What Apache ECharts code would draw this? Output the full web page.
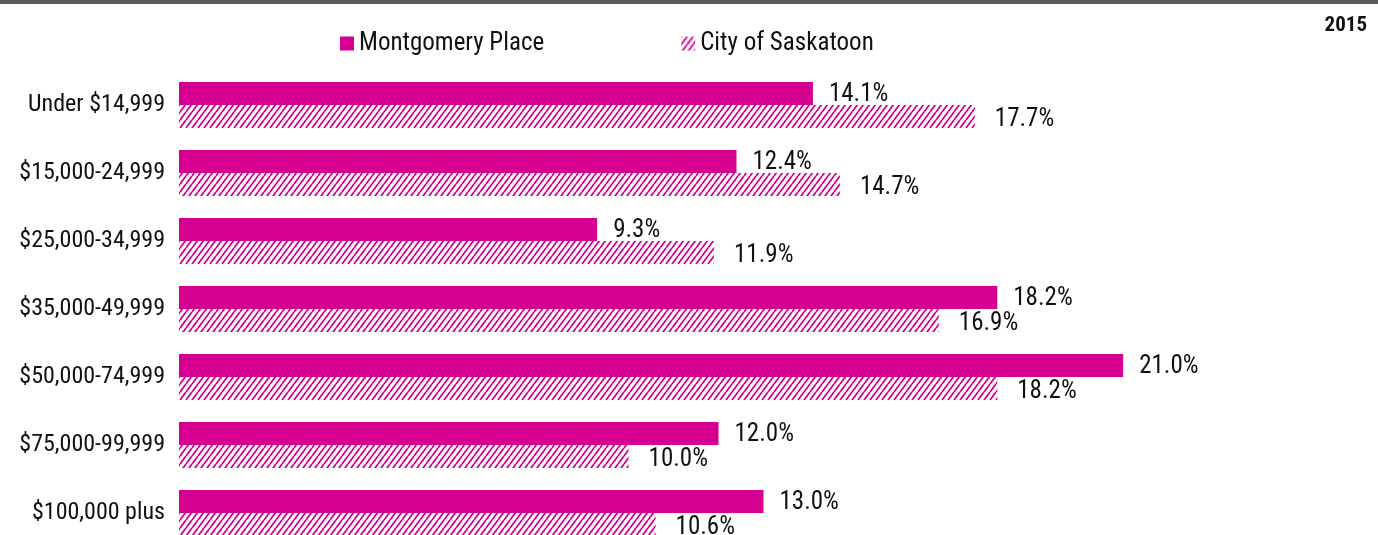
<!DOCTYPE html>
<html lang="en">
<head>
    <meta charset="UTF-8">
    <title>Household income 2015</title>
    <script src="https://cdn.jsdelivr.net/npm/echarts@6/dist/echarts.min.js"></script>
    <style>
        html, body { margin: 0; padding: 0; background: #fff; }
        #mChart { width: 1378px; height: 535px; }
    </style>
</head>
<body>
    <div id="mChart"></div>
    <script type="text/javascript">
        var categories = ['Under $14,999', '$15,000-24,999', '$25,000-34,999', '$35,000-49,999',
            '$50,000-74,999', '$75,000-99,999', '$100,000 plus']
        var montgomery = [14.1, 12.4, 9.3, 18.2, 21.0, 12.0, 13.0]
        var saskatoon = [17.7, 14.7, 11.9, 16.9, 18.2, 10.0, 10.6]

        var pink = '#D5008F'
        var font = "'Roboto Condensed', 'Arial Narrow', sans-serif"

        // hatch pattern for city series (diagonal stripes)
        var cv = document.createElement('canvas')
        cv.width = 6
        cv.height = 8
        var ctx = cv.getContext('2d')
        ctx.fillStyle = '#fff'
        ctx.fillRect(0, 0, 6, 8)
        ctx.strokeStyle = pink
        ctx.lineWidth = 1.8
        ctx.beginPath()
        ctx.moveTo(0, 8); ctx.lineTo(6, 0)
        ctx.moveTo(-6, 8); ctx.lineTo(0, 0)
        ctx.moveTo(6, 8); ctx.lineTo(12, 0)
        ctx.stroke()

        var mChart = echarts.init(document.getElementById('mChart'))

        mChart.setOption({
            animation: false,
            title: {
                text: '2015',
                right: 6,
                top: 10,
                textStyle: { fontFamily: font, fontSize: 21, fontWeight: 'bold', color: '#111' }
            },
            graphic: [{
                type: 'rect',
                shape: { x: 0, y: 0, width: 1378, height: 4 },
                style: { fill: '#595959' }
            }],
            legend: {
                left: 335,
                top: 26,
                itemWidth: 14,
                itemHeight: 14,
                itemGap: 137,
                icon: 'rect',
                textStyle: { fontFamily: font, fontSize: 25, color: '#111' },
                data: ['Montgomery Place', 'City of Saskatoon']
            },
            grid: {
                left: 179,
                top: 71,
                width: 1124,
                height: 476,
                outerBoundsMode: 'none',
                containLabel: false
            },
            xAxis: {
                type: 'value',
                min: 0,
                max: 25,
                show: false
            },
            yAxis: {
                type: 'category',
                data: categories,
                inverse: true,
                axisLine: { show: false },
                axisTick: { show: false },
                axisLabel: { fontFamily: font, fontSize: 24, color: '#111', margin: 14 }
            },
            series: [{
                name: 'Montgomery Place',
                type: 'bar',
                data: montgomery,
                barWidth: 23,
                barGap: '0%',
                itemStyle: { color: pink },
                label: {
                    show: true,
                    position: 'right',
                    distance: 16,
                    offset: [0, 1],
                    formatter: p => p.value.toFixed(1) + '%',
                    fontFamily: font, fontSize: 25, color: '#111'
                }
            }, {
                name: 'City of Saskatoon',
                type: 'bar',
                data: saskatoon,
                barWidth: 23,
                itemStyle: { color: { image: cv, repeat: 'repeat' } },
                label: {
                    show: true,
                    position: 'right',
                    distance: 20,
                    offset: [0, 3],
                    formatter: p => p.value.toFixed(1) + '%',
                    fontFamily: font, fontSize: 25, color: '#111'
                }
            }]
        })
    </script>
</body>
</html>
